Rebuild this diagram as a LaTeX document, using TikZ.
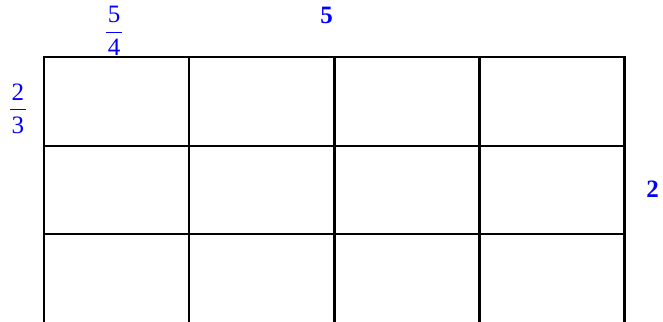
\documentclass[tikz,border=0pt]{standalone}
\usepackage{fontspec}
\setmainfont{Liberation Serif}
\usepackage{tikz}

% stacked fraction: numerator, bar, denominator
\newcommand{\cellfrac}[2]{\vbox{\offinterlineskip\halign{\hfil##\hfil\cr
  #1\cr\noalign{\kern8.5pt}\vrule width 16pt height 1.7pt depth 0pt\cr
  \noalign{\kern6pt}#2\cr}}}

\begin{document}
\begin{tikzpicture}[x=1pt, y=-1pt, line width=2.2pt,
    lbl/.style={blue, inner sep=0pt, font=\fontsize{25}{30}\selectfont}]
  \useasboundingbox (0,0) rectangle (663,321);
  \clip (0,0) rectangle (663,321);
  % grid of cells
  \foreach \i in {0,...,4}
    \draw (44.3+145.05*\i, 57.3) -- (44.3+145.05*\i, 340);
  \foreach \j in {0,...,2}
    \draw (44.3-1.1, 57.3+88.3*\j) -- (624.5+1.1, 57.3+88.3*\j);
  % labels
  \node[lbl] (cellw) at (114,31.2) {\cellfrac{5}{4}};
  \node[lbl] (cellh) at (18,108.5) {\cellfrac{2}{3}};
  \node[lbl] (totw) at (326.5,15.3) {\textbf{5}};
  \node[lbl] (toth) at (652.5,189) {\textbf{2}};
\end{tikzpicture}
\end{document}
